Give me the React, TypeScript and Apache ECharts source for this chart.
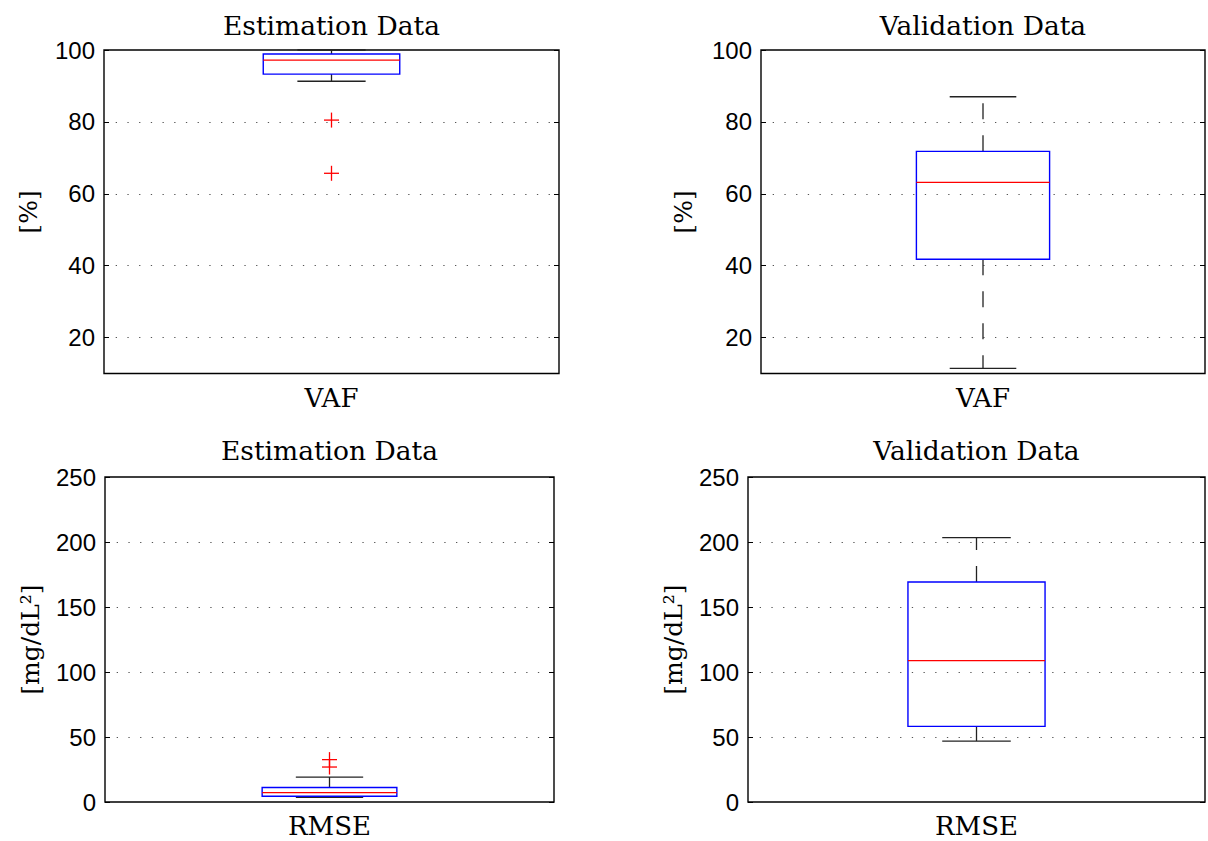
import React, { useEffect, useRef } from 'react';
import * as echarts from 'echarts';

// ---------- data ----------
const vafCategory = ['VAF'];
const rmseCategory = ['RMSE'];
const panelTitles = ['Estimation Data', 'Validation Data', 'Estimation Data', 'Validation Data'];
const yAxisNames = ['[%]', '[%]', '[mg/dL²]', '[mg/dL²]'];

// box statistics: [lower whisker, Q1, median, Q3, upper whisker]
const vafEstimationBox = [91.3, 93.3, 97.2, 98.9, 100];
const vafEstimationOutliers = [80.5, 65.7];
const vafValidationBox = [11.4, 41.8, 63.2, 71.8, 87.0];
const vafValidationOutliers: number[] = [];
const rmseEstimationBox = [3.6, 4.4, 7.2, 11.1, 19.2];
const rmseEstimationOutliers = [32.6, 26.9];
const rmseValidationBox = [46.9, 58.2, 108.8, 169.2, 203.4];
const rmseValidationOutliers: number[] = [];

// y axis ranges
const vafRange = [10, 100];
const rmseRange = [0, 250];
const rmseInterval = 50;

// ---------- layout ----------
const grids = [
  { left: 104, top: 50, width: 455, height: 323.5 },
  { left: 761, top: 50, width: 444, height: 323.5 },
  { left: 105, top: 477, width: 449, height: 325 },
  { left: 748, top: 477, width: 457, height: 325 },
];
const titlePos = [
  [331.5, 25],
  [983, 25],
  [329.5, 450],
  [976.5, 450],
];
const yNamePos = [
  [28, 212],
  [683.5, 212],
  [30, 639.5],
  [673, 639.5],
];
const labelMargins = [12, 12, 12, 12];

const SERIF = '"DejaVu Serif", serif';
const SANS = '"Liberation Sans", Arial, Helvetica, sans-serif';

const panels = [
  { cats: vafCategory, box: vafEstimationBox, out: vafEstimationOutliers, range: vafRange, interval: undefined as number | undefined },
  { cats: vafCategory, box: vafValidationBox, out: vafValidationOutliers, range: vafRange, interval: undefined as number | undefined },
  { cats: rmseCategory, box: rmseEstimationBox, out: rmseEstimationOutliers, range: rmseRange, interval: rmseInterval },
  { cats: rmseCategory, box: rmseValidationBox, out: rmseValidationOutliers, range: rmseRange, interval: rmseInterval },
];

const renderBox = (params: any, api: any) => {
  const xi = api.value(0);
  const lo = api.coord([xi, api.value(1)]);
  const q1 = api.coord([xi, api.value(2)]);
  const med = api.coord([xi, api.value(3)]);
  const q3 = api.coord([xi, api.value(4)]);
  const hi = api.coord([xi, api.value(5)]);
  const band = api.size([1, 0])[0];
  const bw = band * 0.3;
  const cw = band * 0.15;
  const cx = lo[0];
  const whisker = { stroke: '#222', lineWidth: 1.3, lineDash: [16, 16], fill: null };
  const cap = { stroke: '#222', lineWidth: 1.3, fill: null };
  return {
    type: 'group',
    children: [
      { type: 'line', shape: { x1: cx, y1: q3[1], x2: cx, y2: hi[1] }, style: whisker },
      { type: 'line', shape: { x1: cx, y1: q1[1], x2: cx, y2: lo[1] }, style: whisker },
      { type: 'line', shape: { x1: cx - cw / 2, y1: hi[1], x2: cx + cw / 2, y2: hi[1] }, style: cap },
      { type: 'line', shape: { x1: cx - cw / 2, y1: lo[1], x2: cx + cw / 2, y2: lo[1] }, style: cap },
      {
        type: 'rect',
        shape: { x: cx - bw / 2, y: q3[1], width: bw, height: q1[1] - q3[1] },
        style: { stroke: '#0000ff', lineWidth: 1.4, fill: 'none' },
      },
      {
        type: 'line',
        shape: { x1: cx - bw / 2, y1: med[1], x2: cx + bw / 2, y2: med[1] },
        style: { stroke: '#ff0000', lineWidth: 1.3, fill: null },
      },
    ],
  };
};

const renderOutlier = (params: any, api: any) => {
  const p = api.coord([api.value(0), api.value(1)]);
  const h = 7.5;
  const st = { stroke: '#ff0000', lineWidth: 1.3, fill: null };
  return {
    type: 'group',
    children: [
      { type: 'line', shape: { x1: p[0] - h, y1: p[1], x2: p[0] + h, y2: p[1] }, style: st },
      { type: 'line', shape: { x1: p[0], y1: p[1] - h, x2: p[0], y2: p[1] + h }, style: st },
    ],
  };
};

export default function App() {
  const ref = useRef<HTMLDivElement>(null);
  useEffect(() => {
    if (!ref.current) return;
    const chart = echarts.init(ref.current, undefined, { renderer: 'svg' });

    const gridOpts = grids.map((g) => ({
      ...g,
      show: true,
      borderColor: '#000',
      borderWidth: 1.4,
      backgroundColor: '#fff',
      containLabel: false,
    }));

    const xAxes = panels.map((p, i) => ({
      gridIndex: i,
      type: 'category',
      data: p.cats,
      axisLine: { show: false },
      axisTick: { show: false },
      splitLine: { show: false },
      axisLabel: {
        fontFamily: SERIF,
        fontSize: 26,
        lineHeight: 24,
        color: '#000',
        margin: labelMargins[i],
      },
    }));

    const yAxesLeft = panels.map((p, i) => ({
      gridIndex: i,
      type: 'value',
      position: 'left',
      min: p.range[0],
      max: p.range[1],
      ...(p.interval ? { interval: p.interval } : { splitNumber: 5 }),
      axisLine: { show: false },
      axisTick: { show: true, inside: true, length: 5, lineStyle: { color: '#000', width: 1 } },
      axisLabel: {
        fontFamily: SANS,
        fontSize: 24,
        color: '#000',
        margin: 9,
        showMinLabel: p.range[0] === 0,
      },
      splitLine: {
        show: true,
        showMinLine: false,
        showMaxLine: false,
        lineStyle: { type: [1.3, 10.4], color: '#555', width: 1 },
      },
    }));

    const yAxesRight = panels.map((p, i) => ({
      gridIndex: i,
      type: 'value',
      position: 'right',
      min: p.range[0],
      max: p.range[1],
      ...(p.interval ? { interval: p.interval } : { splitNumber: 5 }),
      axisLine: { show: false },
      axisTick: { show: true, inside: true, length: 5, lineStyle: { color: '#000', width: 1 } },
      axisLabel: { show: false },
      splitLine: { show: false },
    }));

    const series: any[] = [];
    panels.forEach((p, i) => {
      series.push({
        type: 'custom',
        xAxisIndex: i,
        yAxisIndex: i,
        renderItem: renderBox,
        encode: { x: 0, y: [1, 2, 3, 4, 5] },
        data: [[0, ...p.box]],
        z: 5,
      });
      if (p.out.length) {
        series.push({
          type: 'custom',
          xAxisIndex: i,
          yAxisIndex: i,
          renderItem: renderOutlier,
          encode: { x: 0, y: 1 },
          data: p.out.map((v) => [0, v]),
          z: 6,
        });
      }
    });

    const graphic: any[] = [];
    panelTitles.forEach((t, i) => {
      graphic.push({
        type: 'text',
        x: titlePos[i][0],
        y: titlePos[i][1],
        style: {
          text: t,
          fontFamily: SERIF,
          fontSize: 26.5,
          fill: '#000',
          align: 'center',
          verticalAlign: 'middle',
        },
      });
    });
    yAxisNames.forEach((t, i) => {
      graphic.push({
        type: 'text',
        x: yNamePos[i][0],
        y: yNamePos[i][1],
        rotation: Math.PI / 2,
        style: {
          text: t,
          fontFamily: SERIF,
          fontSize: 25,
          fill: '#000',
          align: 'center',
          verticalAlign: 'middle',
        },
      });
    });

    chart.setOption({
      animation: false,
      backgroundColor: '#fff',
      grid: gridOpts,
      xAxis: xAxes,
      yAxis: [...yAxesLeft, ...yAxesRight],
      series,
      graphic,
    });
    return () => chart.dispose();
  }, []);

  return (
    <div
      ref={ref}
      style={{ position: 'absolute', left: 0, top: 0, width: 1208, height: 841, background: '#fff' }}
    />
  );
}
